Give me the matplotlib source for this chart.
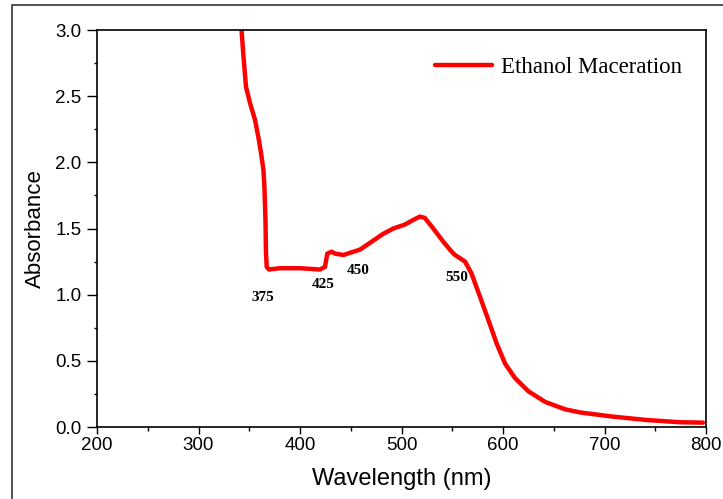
import numpy as np
import matplotlib.pyplot as plt
from matplotlib.patches import Rectangle
from matplotlib.ticker import MultipleLocator

# UV-Vis spektrum, ertekek a kepről leolvasva
wavelength = [342.5, 344.1, 346.8, 350.7, 355.7, 359, 361.6, 364, 364.9, 366,
              366.5, 367.2, 369.5, 380, 400, 419.7, 424.6, 426.9, 431.1, 434.5,
              442.7, 459, 470.6, 482, 492, 503.4, 511.6, 518.2, 523, 531.3,
              541.2, 549.4, 552.7, 562.6, 569, 577.3, 585.5, 593.8, 602, 611.8,
              625, 641.4, 661, 676, 708.7, 741.5, 774, 797]
absorbance = [2.99, 2.82, 2.57, 2.45, 2.32, 2.19, 2.07, 1.94, 1.82, 1.56,
              1.31, 1.21, 1.19, 1.20, 1.20, 1.19, 1.21, 1.31, 1.325, 1.31,
              1.30, 1.34, 1.40, 1.46, 1.50, 1.53, 1.565, 1.59, 1.58, 1.50,
              1.40, 1.325, 1.30, 1.25, 1.16, 0.985, 0.81, 0.63, 0.48, 0.37,
              0.27, 0.19, 0.134, 0.11, 0.078, 0.053, 0.036, 0.033]

peak_labels = ["375", "425", "450", "550"]
peak_x = [363.5, 422.7, 457, 554.7]
peak_y = [0.975, 1.08, 1.18, 1.13]

fig = plt.figure(figsize=(7.23, 4.99), dpi=100)
ax = fig.add_axes([97 / 723, 1 - 427 / 499, 609 / 723, 397 / 499])

ax.plot(wavelength, absorbance, color="#ff0000", lw=3.2, label="Ethanol Maceration",
        solid_capstyle="round", solid_joinstyle="round")

for t, x, y in zip(peak_labels, peak_x, peak_y):
    ax.text(x, y, t, ha="center", va="center", fontsize=11, fontweight="bold",
            family="Liberation Serif")

ax.set_xlim(200, 800)
ax.set_ylim(0, 3.0)
ax.xaxis.set_major_locator(MultipleLocator(100))
ax.xaxis.set_minor_locator(MultipleLocator(50))
ax.yaxis.set_major_locator(MultipleLocator(0.5))
ax.yaxis.set_minor_locator(MultipleLocator(0.25))
ax.tick_params(axis="y", which="major", length=7, width=1, pad=4)
ax.tick_params(axis="y", which="minor", length=2.5, width=1)
ax.tick_params(axis="x", which="major", length=5, width=1, pad=2)
ax.tick_params(axis="x", which="minor", length=3, width=1)
for lab in ax.get_xticklabels() + ax.get_yticklabels():
    lab.set_family("Liberation Sans")
    lab.set_fontsize(13.5)
for s in ax.spines.values():
    s.set_linewidth(1.2)

ax.set_xlabel("Wavelength (nm)", family="Liberation Sans", fontsize=17, labelpad=10)
ax.set_ylabel("Absorbance", family="Liberation Sans", fontsize=16, labelpad=7)

ax.legend(loc="upper right", frameon=False, handlelength=2.5, handletextpad=0.4,
          prop={"family": "Liberation Serif", "size": 16.5},
          bbox_to_anchor=(0.995, 0.985))

# kulso keret
fig.patches.append(Rectangle((11.5 / 723, -0.1), 1.2, 1.1 - 5.5 / 499,
                             transform=fig.transFigure, fill=False,
                             edgecolor="#333333", lw=1.2))

fig.savefig("out.png", dpi=100)
